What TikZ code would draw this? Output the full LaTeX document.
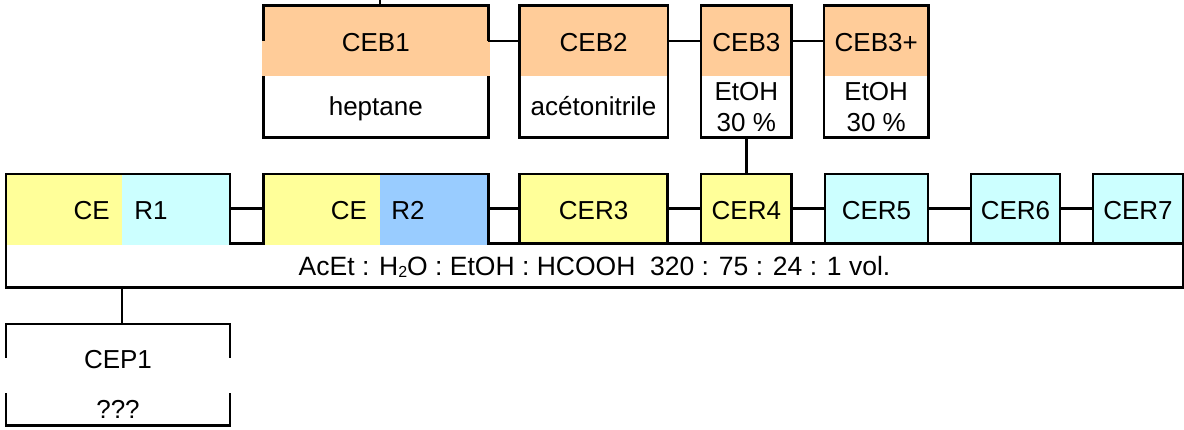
\documentclass[tikz,border=0pt]{standalone}
\usepackage{fontspec}
\setmainfont{Liberation Sans}
\usetikzlibrary{calc}
\definecolor{peach}{HTML}{FFCC99}
\definecolor{lyellow}{HTML}{FFFF99}
\definecolor{lcyan}{HTML}{CCFFFF}
\definecolor{lblue}{HTML}{99CCFF}
\begin{document}
\begin{tikzpicture}[x=1pt,y=-1pt,line width=2.5pt,
  frame/.style={draw=black,rectangle,inner sep=0pt,outer sep=0pt},
  hold/.style={rectangle,inner sep=0pt,outer sep=0pt},
  lbl/.style={inner sep=0pt,anchor=base,font=\fontsize{26}{30}\selectfont},
  link/.style={draw=black,line width=2.5pt}]
\useasboundingbox (0,0) rectangle (1184,429);
\fill[white] (0,0) rectangle (1184,429);

% base solvent box
\node[frame,fill=white,minimum width=1177pt,minimum height=44pt] (acet) at (594.5,265.3) {};
\node[lbl,font=\fontsize{26.5}{30}\selectfont] (acettxt) at (594.5,275.5) {AcEt : H{\fontsize{16}{16}\selectfont\raisebox{-2pt}{2}}O : EtOH : HCOOH\ \ 320 : 75 : 24 : 1 vol.};

% row 2
\node[hold,minimum width=224pt,minimum height=69.3pt] (cer1) at (118,208.65) {};
\fill[lyellow] (6,174) rectangle (122,244.6);
\fill[lcyan] (122,174) rectangle (230,244.6);
\draw ([yshift=-1.3pt]cer1.south west) -- (cer1.north west) -- (cer1.north east) -- ([yshift=-1.3pt]cer1.south east);
\node[lbl,anchor=base east] (cer1a) at (111,219.3) {CE};
\node[lbl,anchor=base west] (cer1b) at (133,219.3) {R1};

\node[hold,minimum width=225pt,minimum height=69.3pt] (cer2) at (375.8,208.65) {};
\fill[lyellow] (263.3,174) rectangle (380,244.6);
\fill[lblue] (380,174) rectangle (488.3,244.6);
\draw ([yshift=-1.3pt]cer2.south west) -- (cer2.north west) -- (cer2.north east) -- ([yshift=-1.3pt]cer2.south east);
\node[lbl,anchor=base east] (cer2a) at (368.3,219.3) {CE};
\node[lbl,anchor=base west] (cer2b) at (390,219.3) {R2};

\node[frame,fill=lyellow,minimum width=148.2pt,minimum height=69.3pt] (cer3) at (593.6,208.65) {};
\node[lbl] (cer3t) at (593.6,219.3) {CER3};
\node[frame,fill=lyellow,minimum width=90.7pt,minimum height=69.3pt] (cer4) at (746.35,208.65) {};
\node[lbl] (cer4t) at (746.35,219.3) {CER4};
\node[frame,fill=lcyan,minimum width=103pt,minimum height=69.3pt] (cer5) at (876.5,208.65) {};
\node[lbl] (cer5t) at (876.5,219.3) {CER5};
\node[frame,fill=lcyan,minimum width=89pt,minimum height=69.3pt] (cer6) at (1015.5,208.65) {};
\node[lbl] (cer6t) at (1015.5,219.3) {CER6};
\node[frame,fill=lcyan,minimum width=90pt,minimum height=69.3pt] (cer7) at (1138,208.65) {};
\node[lbl] (cer7t) at (1138,219.3) {CER7};

% top row
\node[frame,fill=white,minimum width=225pt,minimum height=131.6pt] (ceb1) at (375.8,71.5) {};
\fill[peach] (264.6,7) rectangle (487,76);
\fill[peach] (262,40.5) rectangle (489.6,76);
\node[lbl] (ceb1t) at (375.8,51.7) {CEB1};
\node[lbl] (ceb1s) at (375.8,115) {heptane};

\node[frame,fill=white,minimum width=148.5pt,minimum height=131.6pt] (ceb2) at (593.6,71.5) {};
\fill[peach] (520.6,7) rectangle (666.8,76);
\node[lbl] (ceb2t) at (593.6,51.7) {CEB2};
\node[lbl] (ceb2s) at (593.6,115) {acétonitrile};

\node[frame,fill=white,minimum width=90.7pt,minimum height=131.6pt] (ceb3) at (746.35,71.5) {};
\fill[peach] (702.3,7) rectangle (790.4,76);
\node[lbl] (ceb3t) at (746.35,51.7) {CEB3};
\node[lbl] (ceb3s) at (746.35,100.7) {EtOH};
\node[lbl] (ceb3u) at (746.35,131.7) {30 \%};

\node[frame,fill=white,minimum width=104.3pt,minimum height=131.6pt] (ceb4) at (876.2,71.5) {};
\fill[peach] (825.3,7) rectangle (927,76);
\node[lbl] (ceb4t) at (876.2,51.7) {CEB3+};
\node[lbl] (ceb4s) at (876.2,100.7) {EtOH};
\node[lbl] (ceb4u) at (876.2,131.7) {30 \%};

% bottom box
\node[frame,fill=white,minimum width=224pt,minimum height=101.5pt] (cep1) at (118,374.75) {};
\fill[white] (4,358.3) rectangle (232,392.7);
\node[lbl] (cep1t) at (118,368.6) {CEP1};
\node[lbl] (cep1s) at (118,418) {???};

% connectors
\coordinate (toprow) at (0,41);
\coordinate (topend) at (380,0);
\coordinate (drop) at (122,0);
\draw[link] (topend) -- (topend |- ceb1.north);
\draw[link] (ceb1.east |- toprow) -- (ceb2.west |- toprow);
\draw[link] (ceb2.east |- toprow) -- (ceb3.west |- toprow);
\draw[link] (ceb3.east |- toprow) -- (ceb4.west |- toprow);
\draw[link] (ceb3.south) -- (cer4.north);
\draw[link] (cer1.east) -- (cer2.west);
\draw[link] (cer2.east) -- (cer3.west);
\draw[link] (cer3.east) -- (cer4.west);
\draw[link] (cer4.east) -- (cer5.west);
\draw[link] (cer5.east) -- (cer6.west);
\draw[link] (cer6.east) -- (cer7.west);
\draw[link] (drop |- acet.south) -- (drop |- cep1.north);
\end{tikzpicture}
\end{document}
